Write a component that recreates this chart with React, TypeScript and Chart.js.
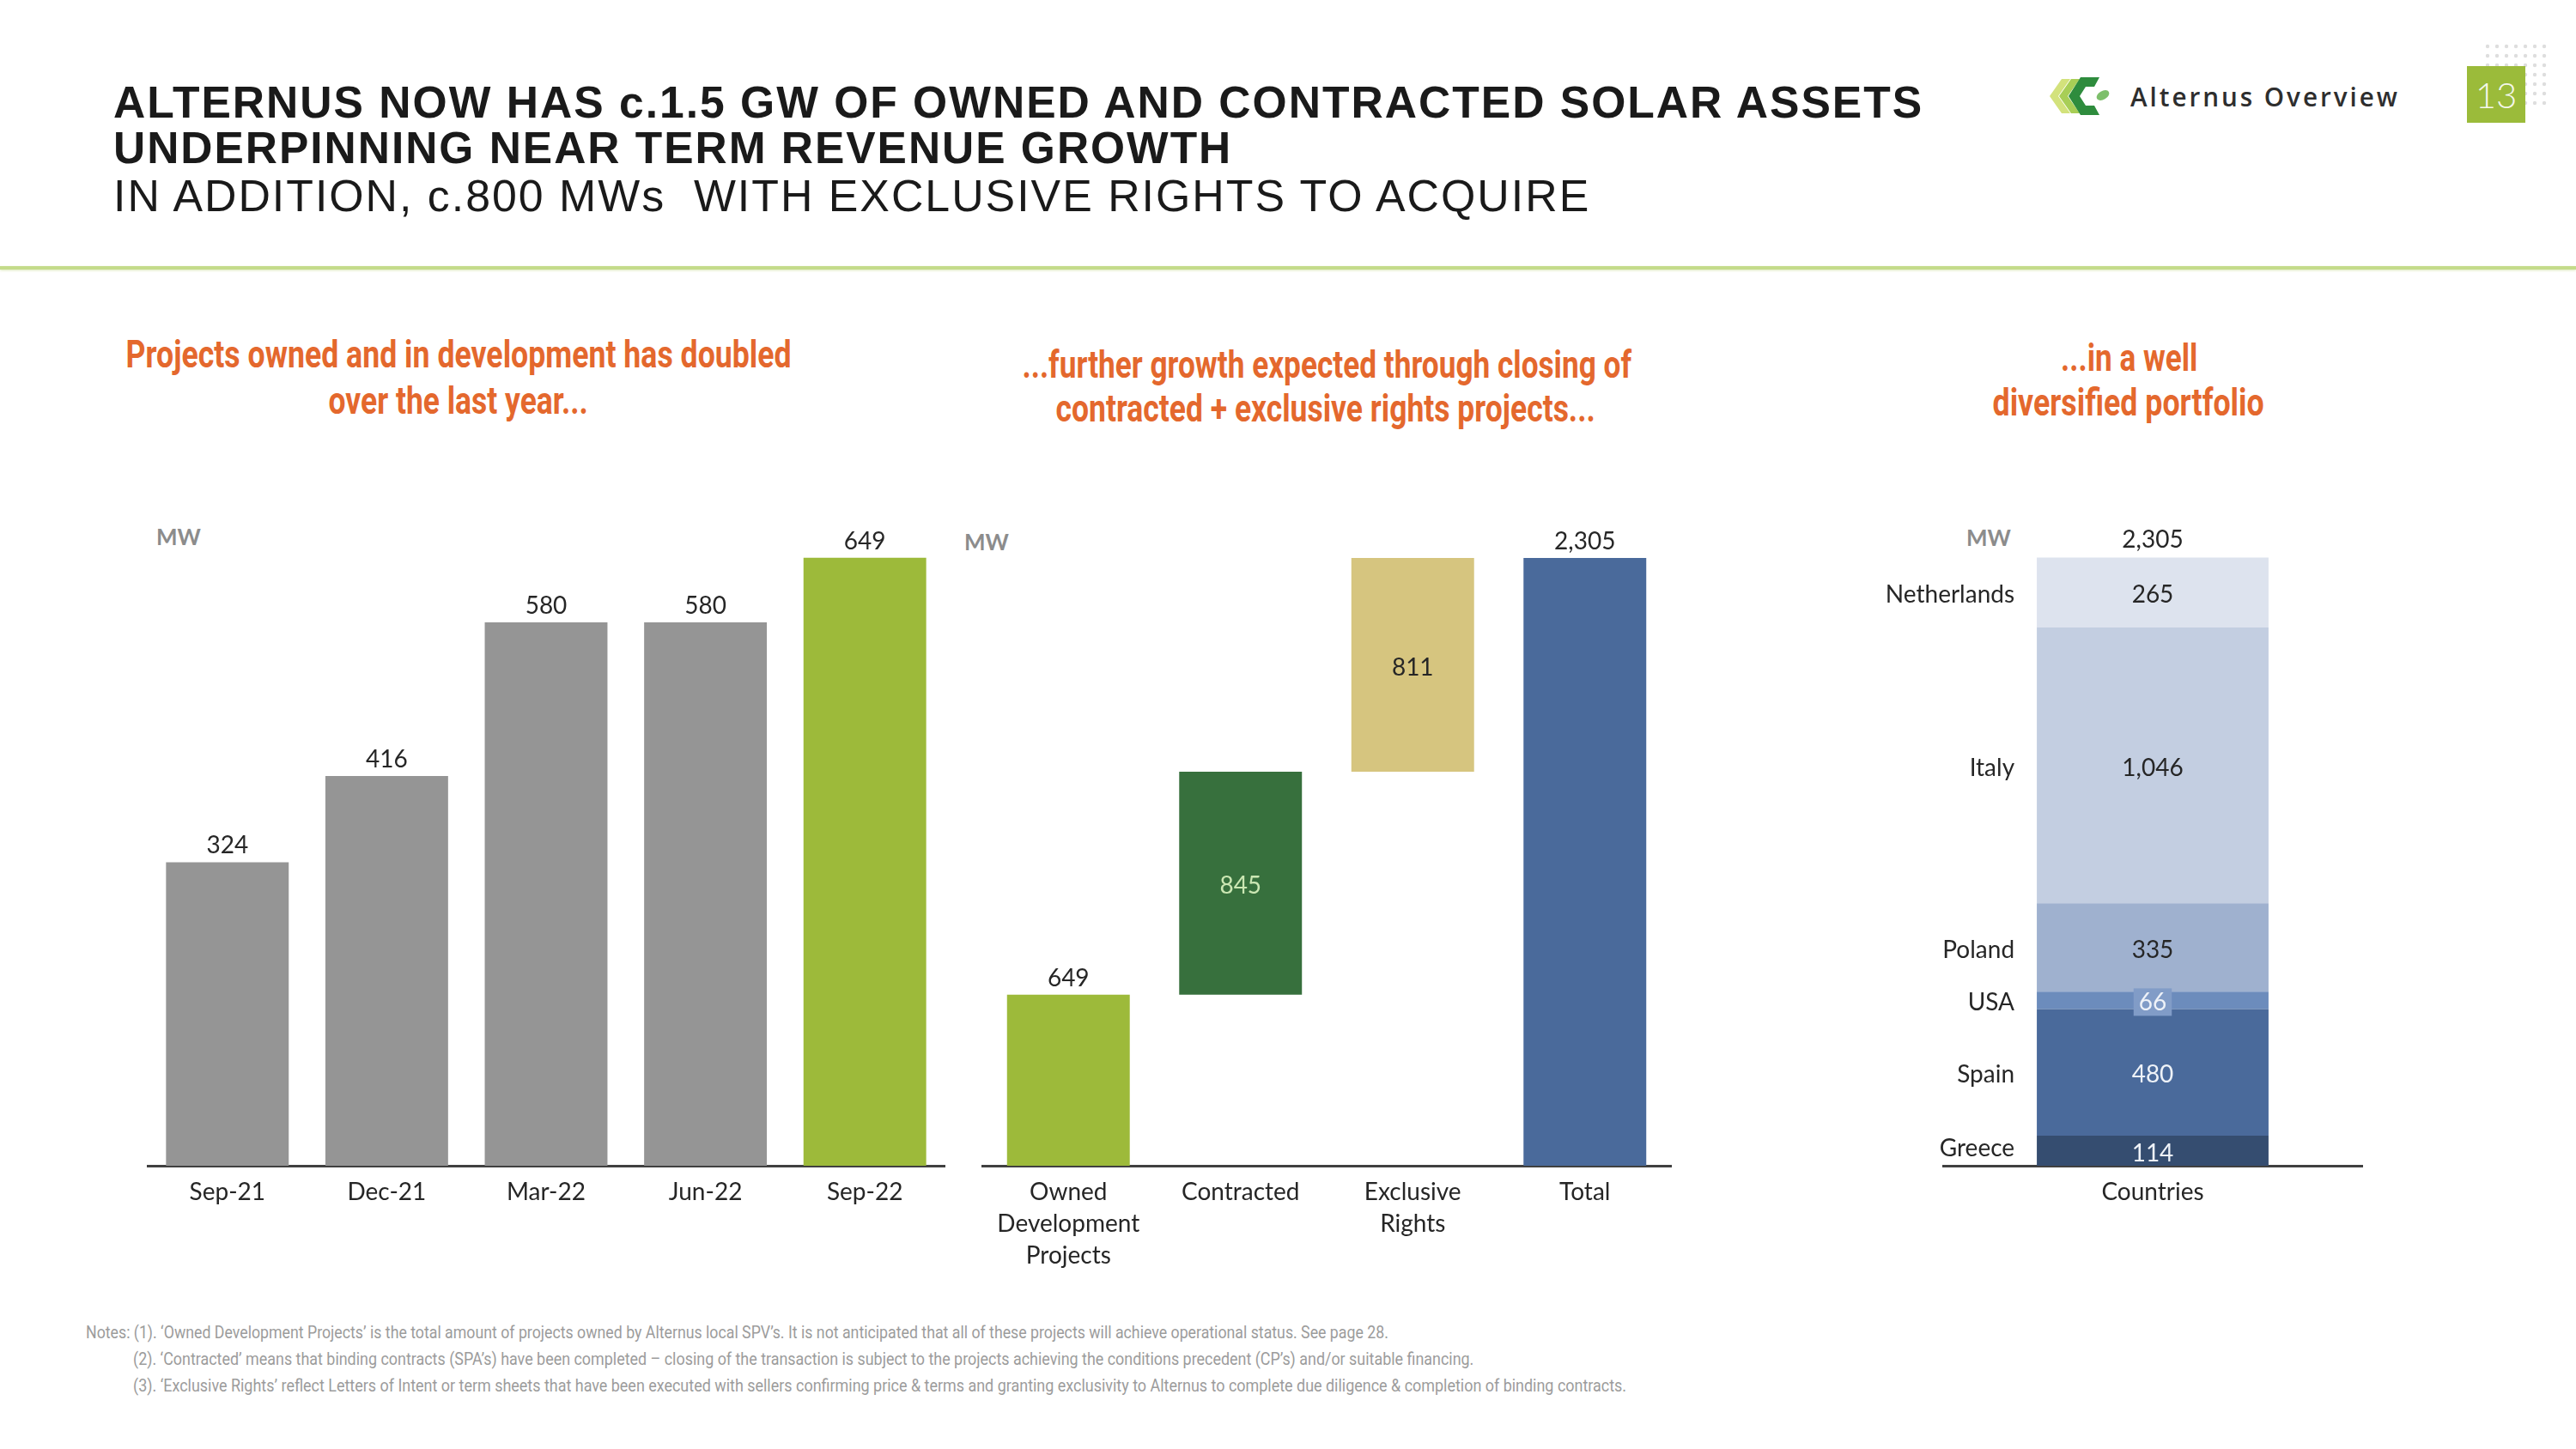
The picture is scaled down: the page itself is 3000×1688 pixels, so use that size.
import React, { useEffect, useLayoutEffect, useRef } from "react";
import { Chart, registerables } from "chart.js";
Chart.register(...registerables);

// ---------- DATA ----------
const growthLabels = ["Sep-21", "Dec-21", "Mar-22", "Jun-22", "Sep-22"];
const growthValues = [324, 416, 580, 580, 649];
const growthColors = ["#959595", "#959595", "#959595", "#959595", "#9dba3a"];

const bridgeLabels = [["Owned", "Development", "Projects"], "Contracted", ["Exclusive", "Rights"], "Total"];
const bridgeSteps = [649, 845, 811];
const bridgeTotal = 2305;
const bridgeColors = ["#9dba3a", "#37703d", "#d6c57f", "#4a6a9b"];

const countryCategory = ["Countries"];
const countryNames = ["Greece", "Spain", "USA", "Poland", "Italy", "Netherlands"];
const countryValues = [114, 480, 66, 335, 1046, 265];
const countryColors = ["#354d70", "#4a6a9b", "#6c8cbc", "#9fb1cf", "#c3cee1", "#dde3ee"];
const countryLabelColors = ["#eef2f8", "#eef2f8", "#eef2f8", "#262626", "#262626", "#262626"];
const countryTotal = 2305;

// ---------- STYLE ----------
const FONT = "Lato, 'Open Sans', sans-serif";
const XH = 140;
const TY = 3; // small vertical nudge for canvas text
const fmt = (v: number) => v.toLocaleString("en-US");

const xAxis = () => ({
  grid: { display: false, drawTicks: false },
  border: { display: true, color: "#404040", width: 3 },
  ticks: { color: "#262626", font: { family: FONT, size: 28, lineHeight: 1.33 }, padding: 12, maxRotation: 0, autoSkip: false },
  afterFit: (s: any) => { s.height = XH; },
});

const baseOptions = (pad: any, ymax: number, stacked = false) => ({
  responsive: false,
  animation: false,
  layout: { padding: pad },
  plugins: { legend: { display: false }, tooltip: { enabled: false } },
  scales: {
    x: { ...xAxis(), stacked },
    y: { display: false, min: 0, max: ymax, stacked },
  },
});

const growthPlugin = {
  id: "growthLabels",
  afterDatasetsDraw(chart: any) {
    const ctx = chart.ctx;
    const meta = chart.getDatasetMeta(0);
    ctx.save();
    ctx.font = `28px ${FONT}`;
    ctx.fillStyle = "#262626";
    ctx.textAlign = "center";
    ctx.textBaseline = "middle";
    meta.data.forEach((bar: any, i: number) => ctx.fillText(fmt(growthValues[i]), bar.x, bar.y - 22 + TY));
    ctx.restore();
  },
};

const bridgePlugin = {
  id: "bridgeLabels",
  afterDatasetsDraw(chart: any) {
    const ctx = chart.ctx;
    const meta = chart.getDatasetMeta(0);
    const vals = [...bridgeSteps, bridgeTotal];
    ctx.save();
    ctx.font = `28px ${FONT}`;
    ctx.textAlign = "center";
    ctx.textBaseline = "middle";
    meta.data.forEach((bar: any, i: number) => {
      const inside = i === 1 || i === 2;
      ctx.fillStyle = i === 1 ? "#cbe7b3" : "#262626";
      const y = inside ? (bar.y + bar.base) / 2 : bar.y - 22;
      ctx.fillText(fmt(vals[i]), bar.x, y + TY);
    });
    ctx.restore();
  },
};

const countryPlugin = {
  id: "countryLabels",
  afterDatasetsDraw(chart: any) {
    const ctx = chart.ctx;
    ctx.save();
    ctx.font = `28px ${FONT}`;
    ctx.textBaseline = "middle";
    let topY = Infinity;
    let cx = 0;
    countryValues.forEach((v, i) => {
      const bar: any = chart.getDatasetMeta(i).data[0];
      const cy = (bar.y + bar.base) / 2 + TY;
      cx = bar.x;
      topY = Math.min(topY, bar.y);
      if (countryNames[i] === "USA") {
        const w = ctx.measureText(fmt(v)).width + 12;
        ctx.fillStyle = "#819cc7";
        ctx.fillRect(bar.x - w / 2, cy - 17, w, 32);
      }
      ctx.textAlign = "center";
      ctx.fillStyle = countryLabelColors[i];
      ctx.fillText(fmt(v), bar.x, cy);
      ctx.textAlign = "right";
      ctx.fillStyle = "#262626";
      ctx.fillText(countryNames[i], bar.x - bar.width / 2 - 26, cy - (i === 0 ? 6 : 0));
    });
    ctx.textAlign = "center";
    ctx.fillStyle = "#262626";
    ctx.fillText(fmt(countryTotal), cx, topY - 24 + TY);
    ctx.restore();
  },
};

const growthConfig = () => ({
  type: "bar",
  data: {
    labels: growthLabels,
    datasets: [{ data: growthValues, backgroundColor: growthColors, barPercentage: 0.77, categoryPercentage: 1 }],
  },
  options: baseOptions({ top: 34, left: 22, right: 20, bottom: 0 }, 700),
  plugins: [growthPlugin],
});

const bridgeConfig = () => {
  const ranges: [number, number][] = [];
  let acc = 0;
  bridgeSteps.forEach((s) => { ranges.push([acc, acc + s]); acc += s; });
  ranges.push([0, bridgeTotal]);
  return {
    type: "bar",
    data: {
      labels: bridgeLabels,
      datasets: [{ data: ranges, backgroundColor: bridgeColors, barPercentage: 0.713, categoryPercentage: 1 }],
    },
    options: baseOptions({ top: 30, left: 24, right: 24, bottom: 0 }, 2500),
    plugins: [bridgePlugin],
  };
};

const countryConfig = () => ({
  type: "bar",
  data: {
    labels: countryCategory,
    datasets: countryValues.map((v, i) => ({
      label: countryNames[i],
      data: [v],
      backgroundColor: countryColors[i],
      barPercentage: 0.553,
      categoryPercentage: 1,
    })),
  },
  options: baseOptions({ top: 30, left: 263, right: 29, bottom: 0 }, 2500, true),
  plugins: [countryPlugin],
});

// ---------- COMPONENTS ----------
function ChartCanvas({ left, top, width, height, config }: any) {
  const ref = useRef<HTMLCanvasElement>(null);
  useEffect(() => {
    const chart = new Chart(ref.current as HTMLCanvasElement, config() as any);
    return () => chart.destroy();
  }, []);
  return (
    <canvas ref={ref} width={width} height={height}
      style={{ position: "absolute", left, top, width, height }} />
  );
}

function FitText({ x, cy, w, text, size, family, weight = 400, color, align = "left", spacing = 0 }: any) {
  const ref = useRef<HTMLSpanElement>(null);
  useLayoutEffect(() => {
    const el = ref.current as HTMLSpanElement;
    const fit = () => {
      const nw = el.offsetWidth;
      if (nw > 0) el.style.transform = `scaleX(${w / nw})`;
    };
    fit();
    const f: any = (document as any).fonts;
    if (f && f.ready) f.ready.then(fit);
  }, []);
  const center = align === "center";
  return (
    <div style={{
      position: "absolute", left: center ? x - 1500 : x, width: center ? 3000 : undefined,
      top: cy - size * 0.6, height: size * 1.2, lineHeight: `${size * 1.2}px`,
      textAlign: center ? "center" : "left", whiteSpace: "pre",
    }}>
      <span ref={ref} style={{
        display: "inline-block", transformOrigin: center ? "center center" : "left center", whiteSpace: "pre",
        fontFamily: family, fontSize: size, fontWeight: weight, color, letterSpacing: spacing,
      }}>{text}</span>
    </div>
  );
}

const TITLE_FONT = "'Liberation Sans', Arial, sans-serif";
const COND_FONT = "Roboto, 'Liberation Sans', sans-serif";
const ORANGE = "#e4682d";

function Dots() {
  const dots = [];
  for (let r = 0; r < 7; r++) for (let c = 0; c < 7; c++) {
    dots.push(<circle key={r + "-" + c} cx={4 + c * 11} cy={4 + r * 11} r={2.2} fill="#dedede" />);
  }
  return <svg width={80} height={80} style={{ position: "absolute", left: 2893, top: 50 }}>{dots}</svg>;
}

export default function App() {
  return (
    <div style={{ position: "absolute", left: 0, top: 0, width: 3000, height: 1688, background: "#ffffff", overflow: "hidden" }}>
      {/* Header */}
      <FitText x={132} cy={119} w={2108} size={52} family={TITLE_FONT} weight={700} color="#1a1a1a" spacing={2}
        text="ALTERNUS NOW HAS c.1.5 GW OF OWNED AND CONTRACTED SOLAR ASSETS" />
      <FitText x={132} cy={172} w={1303} size={52} family={TITLE_FONT} weight={700} color="#1a1a1a" spacing={2}
        text="UNDERPINNING NEAR TERM REVENUE GROWTH" />
      <FitText x={132} cy={228} w={1720} size={52} family={TITLE_FONT} weight={400} color="#1a1a1a" spacing={2}
        text="IN ADDITION, c.800 MWs  WITH EXCLUSIVE RIGHTS TO ACQUIRE" />
      <div style={{ position: "absolute", left: 0, top: 310, width: 3000, height: 4, background: "#c4db8a", boxShadow: "0 1px 3px rgba(196,219,138,0.6)" }} />

      {/* Logo */}
      <svg width={74} height={56} viewBox="0 0 74 56" style={{ position: "absolute", left: 2387, top: 84 }}>
        <polygon points="0,28 14,8 24,8 10,28 24,48 14,48" fill="#d3e27c" />
        <polygon points="11,28 25,8 35,8 21,28 35,48 25,48" fill="#a8ce56" />
        <path d="M22,28 L36,6 L58,6 L52,17 L42,17 L35,28 L42,39 L52,39 L58,50 L36,50 Z" fill="#2e8c3d" />
        <ellipse cx={62} cy={27} rx={8} ry={5} fill="#7dbf6b" transform="rotate(-30 62 27)" />
      </svg>
      <FitText x={2481} cy={113} w={314} size={30} family="'Open Sans', sans-serif" weight={600} color="#2e2e2e" spacing={3}
        text="Alternus Overview" />
      <Dots />
      <div style={{ position: "absolute", left: 2873, top: 77, width: 68, height: 66, background: "#9bbb3a",
        color: "#f4f7ea", fontFamily: FONT, fontWeight: 300, fontSize: 42, lineHeight: "66px", textAlign: "center" }}>13</div>

      {/* Subtitles */}
      <FitText x={534} cy={413} w={775} size={44} family={COND_FONT} weight={700} color={ORANGE} align="center" text="Projects owned and in development has doubled" />
      <FitText x={534} cy={467} w={302} size={44} family={COND_FONT} weight={700} color={ORANGE} align="center" text="over the last year..." />
      <FitText x={1545} cy={425} w={710} size={44} family={COND_FONT} weight={700} color={ORANGE} align="center" text="...further growth expected through closing of" />
      <FitText x={1544} cy={476} w={628} size={44} family={COND_FONT} weight={700} color={ORANGE} align="center" text="contracted + exclusive rights projects..." />
      <FitText x={2480} cy={417} w={159} size={44} family={COND_FONT} weight={700} color={ORANGE} align="center" text="...in a well" />
      <FitText x={2479} cy={469} w={316} size={44} family={COND_FONT} weight={700} color={ORANGE} align="center" text="diversified portfolio" />

      {/* Unit labels */}
      <div style={{ position: "absolute", left: 182, top: 608, fontFamily: FONT, fontWeight: 700, fontSize: 26, color: "#8c8c8c", lineHeight: "34px" }}>MW</div>
      <div style={{ position: "absolute", left: 1123, top: 614, fontFamily: FONT, fontWeight: 700, fontSize: 26, color: "#8c8c8c", lineHeight: "34px" }}>MW</div>
      <div style={{ position: "absolute", left: 2290, top: 609, fontFamily: FONT, fontWeight: 700, fontSize: 26, color: "#8c8c8c", lineHeight: "34px" }}>MW</div>

      {/* Charts */}
      <ChartCanvas left={150} top={560} width={970} height={1358 - 560 + XH} config={growthConfig} />
      <ChartCanvas left={1120} top={560} width={850} height={1358 - 560 + XH} config={bridgeConfig} />
      <ChartCanvas left={2000} top={560} width={780} height={1358 - 560 + XH} config={countryConfig} />

      {/* Notes */}
      <FitText x={100} cy={1553} w={1517} size={21} family={COND_FONT} color="#9c9c9c"
        text="Notes: (1). ‘Owned Development Projects’ is the total amount of projects owned by Alternus local SPV’s. It is not anticipated that all of these projects will achieve operational status. See page 28." />
      <FitText x={155} cy={1584} w={1561} size={21} family={COND_FONT} color="#9c9c9c"
        text="(2). ‘Contracted’ means that binding contracts (SPA’s) have been completed – closing of the transaction is subject to the projects achieving the conditions precedent (CP’s) and/or suitable financing." />
      <FitText x={155} cy={1615} w={1739} size={21} family={COND_FONT} color="#9c9c9c"
        text="(3). ‘Exclusive Rights’ reflect Letters of Intent or term sheets that have been executed with sellers confirming price & terms and granting exclusivity to Alternus to complete due diligence & completion of binding contracts." />
    </div>
  );
}
